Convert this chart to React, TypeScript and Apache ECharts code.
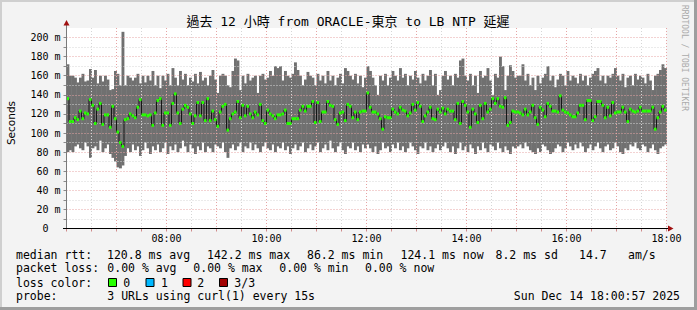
import React, { useEffect, useRef } from 'react';
import * as echarts from 'echarts';

// ---- data (ms), one value per 3-minute step from 06:00 to 18:00 ----
const medianRtt = [
  136,112,112,116,114,123,115,121,120,135,
  129,110,125,131,109,119,119,106,128,115,
  101,90,86,114,115,120,118,116,127,135,
  119,119,118,119,108,121,134,136,108,121,
  121,108,131,141,121,110,125,129,127,120,
  110,118,132,118,132,113,136,113,123,114,
  107,122,128,130,103,115,120,122,133,116,
  129,118,128,120,116,122,119,130,113,110,
  124,120,118,115,119,119,120,124,110,110,
  115,115,115,124,128,123,128,128,133,111,
  132,112,122,122,133,129,128,114,109,121,
  122,113,130,128,116,122,114,122,123,123,
  142,127,122,122,120,115,104,117,116,116,
  125,122,120,127,124,123,118,121,130,124,
  132,128,112,118,122,127,115,114,125,122,
  126,120,125,123,123,114,131,110,133,129,
  122,106,125,120,111,129,115,131,122,125,
  136,131,136,128,127,137,108,111,123,122,
  122,121,119,125,119,122,129,116,109,127,
  124,117,131,128,123,123,122,139,124,122,
  121,119,117,117,121,129,129,114,134,134,
  113,117,133,133,129,116,127,118,132,121,
  122,122,127,122,112,125,123,122,123,127,
  123,123,123,123,127,104,116,122,128,124,
];
const smokeMax = [
  172,160,160,158,153,158,162,154,155,167,
  158,166,152,160,154,160,156,145,146,165,
  162,150,206,150,160,158,155,158,162,152,
  160,153,160,155,165,150,160,147,160,155,
  162,150,168,158,150,165,156,162,150,158,
  154,162,152,164,155,158,150,160,166,156,
  142,160,162,160,150,148,165,178,176,145,
  160,152,162,155,158,160,142,160,162,156,
  158,165,160,170,168,170,155,165,160,158,
  162,174,166,160,150,156,164,160,158,150,
  162,155,160,152,165,155,160,150,158,162,
  152,168,165,160,156,162,152,160,148,158,
  170,165,158,150,140,160,155,162,150,158,
  165,160,155,168,158,162,150,160,156,165,
  158,152,162,155,160,166,150,162,140,145,
  160,165,156,160,150,162,158,176,178,160,
  155,162,150,160,142,165,158,160,168,155,
  140,162,158,180,170,145,160,171,165,158,
  160,160,172,155,162,150,158,145,160,152,
  158,162,170,155,160,148,156,162,160,150,
  165,155,160,158,152,162,155,160,150,158,
  162,165,168,155,160,152,160,158,162,168,
  160,155,162,148,158,160,150,162,156,160,
  158,152,162,155,145,160,162,166,172,168,
];
const smokeMin = [
  80,82,80,86,88,84,82,90,86,74,
  84,86,82,92,80,84,88,78,74,70,
  64,63,66,76,84,80,88,82,86,76,
  82,90,84,78,86,82,88,80,84,90,
  78,86,82,88,80,84,92,86,80,88,
  84,78,86,82,90,80,86,84,80,88,
  86,84,90,80,74,84,88,82,86,90,
  80,86,84,90,82,88,84,80,86,90,
  84,82,88,80,86,84,90,82,86,78,
  84,88,82,86,90,80,84,88,82,86,
  90,80,84,88,82,92,84,80,86,90,
  82,78,86,84,90,82,86,80,88,84,
  88,84,80,86,78,82,90,84,86,80,
  88,84,90,82,86,80,84,90,86,82,
  78,86,84,90,82,86,80,84,88,82,
  86,90,84,80,86,78,84,90,82,86,
  80,88,84,78,86,82,90,84,80,88,
  86,82,90,84,80,86,82,78,86,84,
  86,88,84,90,86,82,80,78,84,80,
  88,86,82,78,80,84,88,86,80,84,
  90,86,82,88,84,90,86,80,84,88,
  82,86,90,84,80,86,88,82,84,90,
  86,80,78,84,82,88,86,90,84,82,
  88,86,80,84,88,82,78,84,86,88,
];
const yLabelValues = [0, 20, 40, 60, 80, 100, 120, 140, 160, 180, 200];
const xLabelTimes = ['08:00', '10:00', '12:00', '14:00', '16:00', '18:00'];

const titleText = '過去 12 小時 from ORACLE-東京 to LB NTP 延遲';
const yAxisName = 'Seconds';
const watermark = 'RRDTOOL / TOBI OETIKER';
const legendLine1: [string, number][] = [
  ['median rtt:', 16], ['120.8 ms avg', 107], ['142.2 ms max', 207], ['86.2 ms min', 307],
  ['124.1 ms now', 400.5], ['8.2 ms sd', 495.5], ['14.7', 579], ['am/s', 628],
];
const legendLine2: [string, number][] = [
  ['packet loss:', 16], ['0.00 % avg', 107.3], ['0.00 % max', 193.3], ['0.00 % min', 279.3], ['0.00 % now', 365],
];
const lossLabels = ['0', '1', '2', '3/3'];
const lossColors = ['#26ff00', '#00b8ff', '#ff0000', '#a10000'];
const probeText = '3 URLs using curl(1) every 15s';
const dateText = 'Sun Dec 14 18:00:57 2025';

const START_MIN = 360;
const END_MIN = 1080;
const STEP_MIN = 3;

const MONO = "'DejaVu Sans Mono', 'Noto Sans CJK TC', monospace";

export default function App() {
  const ref = useRef<HTMLDivElement>(null);
  useEffect(() => {
    document.body.style.margin = '0';
    const chart = echarts.init(ref.current!, null, { renderer: 'svg' });
    const times = medianRtt.map((_, i) => START_MIN + i * STEP_MIN);
    const withEnd = (arr: number[]) => [
      ...arr.map((v, i) => [times[i], v]),
      [END_MIN, arr[arr.length - 1]],
    ];

    const gridLineColors = ['#e6a4a4', '#d6d6d6'];
    const lineY = [254.5, 268, 282.5, 296];
    const txt = (text: string, x: number, y: number, extra: any = {}) => ({
      type: 'text', x, y, z: 20,
      style: { text, fill: '#000', fontSize: 11.5, fontFamily: MONO, verticalAlign: 'middle', align: 'left', ...extra },
    });
    const boxX = [108.5, 146, 183, 219.5];
    const labX = [123.3, 161, 197.3, 234.3];

    const graphics: any[] = [
      { type: 'rect', z: 20, shape: { x: 0, y: 0, width: 697, height: 2 }, style: { fill: '#cfcfcf' } },
      { type: 'rect', z: 20, shape: { x: 0, y: 0, width: 2, height: 310 }, style: { fill: '#cfcfcf' } },
      { type: 'rect', z: 20, shape: { x: 0, y: 307, width: 697, height: 3 }, style: { fill: '#9e9e9e' } },
      { type: 'rect', z: 20, shape: { x: 694, y: 0, width: 3, height: 310 }, style: { fill: '#9e9e9e' } },
      { type: 'line', z: 20, shape: { x1: 66.5, y1: 228.5, x2: 66.5, y2: 24 }, style: { stroke: '#7a7a7a', lineWidth: 1 } },
      { type: 'line', z: 20, shape: { x1: 63, y1: 228.5, x2: 670, y2: 228.5 }, style: { stroke: '#000', lineWidth: 1 } },
      { type: 'polygon', z: 21, shape: { points: [[63.5, 25.5], [69.5, 25.5], [66.5, 20]] }, style: { fill: '#a01010' } },
      { type: 'polygon', z: 21, shape: { points: [[668, 225.5], [668, 231.5], [673.5, 228.5]] }, style: { fill: '#a01010' } },
      { type: 'text', z: 20, x: 348, y: 21.5, style: { text: titleText, fill: '#000', fontSize: 13, fontFamily: MONO, align: 'center', verticalAlign: 'middle' } },
      { type: 'text', z: 20, x: 11, y: 123, rotation: Math.PI / 2, style: { text: yAxisName, fill: '#000', fontSize: 10.5, fontFamily: "'DejaVu Sans', sans-serif", align: 'center', verticalAlign: 'middle' } },
      { type: 'text', z: 20, x: 684, y: 58, rotation: -Math.PI / 2, style: { text: watermark, fill: '#aaaaaa', fontSize: 8, fontFamily: MONO, align: 'center', verticalAlign: 'middle' } },
    ];
    legendLine1.forEach(([t, x]) => graphics.push(txt(t, x, lineY[0])));
    legendLine2.forEach(([t, x]) => graphics.push(txt(t, x, lineY[1])));
    graphics.push(txt('loss color:', 16, lineY[2]));
    lossLabels.forEach((l, i) => {
      graphics.push({ type: 'rect', z: 20, shape: { x: boxX[i], y: 278.5, width: 8, height: 8 }, style: { fill: lossColors[i], stroke: '#000', lineWidth: 1 } });
      graphics.push(txt(l, labX[i], lineY[2]));
    });
    graphics.push(txt('probe:', 16, lineY[3]));
    graphics.push(txt(probeText, 107.3, lineY[3]));
    graphics.push(txt(dateText, 680, lineY[3], { align: 'right' }));

    const pad = (n: number) => (n < 10 ? '0' + n : '' + n);

    chart.setOption({
      animation: false,
      backgroundColor: '#f3f3f3',
      grid: {
        left: 66.5, right: 30.5, top: 28, bottom: 81.5,
        show: true, backgroundColor: '#ffffff', borderWidth: 0,
        outerBoundsMode: 'none',
      },
      xAxis: {
        type: 'value', min: START_MIN, max: END_MIN, interval: 30, z: 3,
        axisLine: { show: false },
        axisTick: { show: true, length: 3, lineStyle: { color: '#d08a8a' } },
        axisLabel: {
          margin: 5, color: '#000', fontSize: 10, fontFamily: MONO,
          showMinLabel: true, showMaxLabel: true, hideOverlap: false,
          formatter: (v: number) => {
            const s = pad(Math.floor(v / 60) % 24) + ':' + pad(v % 60);
            return v % 120 === 0 && xLabelTimes.includes(s) ? s : '';
          },
        },
        splitLine: { show: true, lineStyle: { color: gridLineColors, type: [1, 2], width: 1 } },
      },
      yAxis: {
        type: 'value', min: 0, max: 210, interval: 10, z: 3,
        axisLine: { show: false },
        axisTick: { show: true, length: 3, lineStyle: { color: '#8a8a8a' } },
        axisLabel: {
          margin: 6, color: '#000', fontSize: 10, fontFamily: MONO,
          showMaxLabel: false,
          formatter: (v: number) => {
            if (!yLabelValues.includes(v)) return '';
            return v === 0 ? '{z|0}' : v + ' m';
          },
          rich: { z: { fontSize: 10, fontFamily: MONO, color: '#000', padding: [0, 12, 0, 0] } },
        },
        splitLine: { show: true, showMaxLine: false, lineStyle: { color: gridLineColors, type: [1, 2], width: 1 } },
      },
      series: [
        {
          type: 'custom', name: 'smoke', silent: true, z: 1,
          data: medianRtt.map((_, i) => [times[i], smokeMin[i], smokeMax[i]]),
          encode: { x: 0, y: [1, 2] },
          renderItem: (params: any, api: any) => {
            const t = api.value(0);
            const lo = api.value(1);
            const hi = api.value(2);
            const a = api.coord([t, hi]);
            const b = api.coord([t + STEP_MIN, lo]);
            return {
              type: 'rect',
              shape: { x: a[0], y: a[1], width: b[0] - a[0] + 0.4, height: b[1] - a[1] },
              style: { fill: '#707070' },
            };
          },
        },
        {
          type: 'line', name: 'median', step: 'end', symbol: 'none', silent: true,
          data: withEnd(medianRtt), lineStyle: { color: '#161616', width: 1 }, z: 5,
        },
        {
          type: 'custom', name: 'medianMark', silent: true, z: 6,
          data: medianRtt.map((v, i) => [times[i], v]),
          renderItem: (params: any, api: any) => {
            const t = api.value(0);
            const v = api.value(1);
            const p0 = api.coord([t, v]);
            const p1 = api.coord([t + STEP_MIN, v]);
            return {
              type: 'rect',
              shape: { x: p0[0], y: p0[1] - 1.5, width: p1[0] - p0[0], height: 3 },
              style: { fill: '#26ff00' },
            };
          },
        },
      ],
      graphic: { elements: graphics },
    });
    return () => chart.dispose();
  }, []);
  return <div ref={ref} style={{ width: 697, height: 310 }} />;
}
